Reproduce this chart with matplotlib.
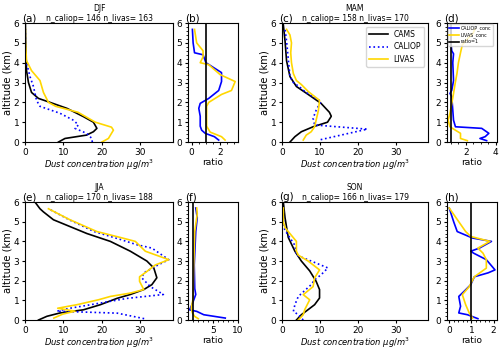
import numpy as np
import matplotlib
matplotlib.use("Agg")
import matplotlib.pyplot as plt

# Seasons and sample counts
SEASONS = ["DJF", "MAM", "JJA", "SON"]
N_CALIOP = [146, 158, 170, 166]
N_LIVAS = [163, 170, 188, 179]
LETTERS = [("(a)", "(b)"), ("(c)", "(d)"), ("(e)", "(f)"), ("(g)", "(h)")]

# DJF profiles (altitude km, concentration ug/m3)
djf_cams_z = [0.0, 0.18, 0.35, 0.52, 0.69, 1.0, 1.28, 1.7, 2.0, 2.2, 2.5, 3.0, 3.6, 4.8, 6.0]
djf_cams = [8.7, 10.4, 16.0, 17.8, 18.7, 17.8, 15.2, 10.9, 6.5, 3.5, 1.7, 0.9, 0.4, 0.2, 0.1]
djf_livas_z = [0.0, 0.18, 0.6, 0.75, 1.0, 1.1, 1.5, 1.8, 2.0, 2.5, 3.1, 3.6, 4.1, 5.1, 5.7]
djf_livas = [20.0, 21.7, 23.0, 22.5, 18.3, 17.4, 13.8, 8.0, 6.1, 4.8, 3.9, 1.7, 0.4, 0.1, 0.1]
djf_caliop_z = [0.0, 0.18, 0.44, 0.69, 0.86, 1.1, 1.45, 1.8, 2.1, 2.8, 3.3, 4.0, 4.5, 5.1, 5.7]
djf_caliop = [17.5, 17.4, 16.0, 13.0, 13.9, 12.6, 9.1, 3.9, 3.0, 2.2, 1.3, 0.4, 0.1, 0.1, 0.1]
djf_r_caliop_z = [0.1, 0.27, 0.44, 0.6, 0.8, 1.3, 1.7, 1.95, 2.2, 2.6, 3.05, 3.5, 4.0, 4.4, 4.5, 5.0, 5.68]
djf_r_caliop = [1.9, 1.6, 0.95, 0.7, 0.6, 0.6, 0.5, 0.6, 1.2, 1.9, 2.1, 2.1, 1.0, 0.8, 0.2, 0.1, 0.05]
djf_r_livas_z = [0.1, 0.27, 0.5, 0.8, 1.8, 2.0, 2.4, 2.6, 3.05, 3.4, 3.9, 4.0, 4.3, 4.6, 5.0, 5.68]
djf_r_livas = [2.35, 2.1, 1.3, 1.05, 1.05, 1.2, 2.1, 2.8, 3.06, 2.0, 1.2, 0.6, 0.8, 0.8, 0.35, 0.2]

# MAM profiles
mam_cams_z = [0.0, 0.27, 0.52, 0.77, 1.0, 1.3, 1.5, 1.95, 2.4, 2.8, 3.3, 4.1, 5.1, 6.0]
mam_cams = [2.1, 3.4, 5.1, 8.2, 12.0, 13.0, 12.5, 10.3, 6.9, 3.8, 2.1, 1.2, 0.8, 0.3]
mam_livas_z = [0.1, 0.35, 0.52, 0.77, 1.1, 1.6, 2.1, 2.55, 2.9, 3.1, 3.45, 4.0, 4.5, 5.0, 5.4, 5.68]
mam_livas = [5.6, 6.4, 7.7, 8.6, 9.0, 9.6, 9.9, 6.9, 5.1, 3.8, 3.0, 2.5, 2.3, 2.5, 2.1, 1.2]
mam_caliop_z = [0.12, 0.65, 0.86, 1.2, 1.6, 2.05, 2.3, 2.55, 2.75, 3.0, 3.3, 4.1, 5.1, 5.68]
mam_caliop = [10.2, 22.5, 8.6, 8.2, 9.0, 10.3, 8.0, 6.0, 4.8, 3.0, 2.1, 1.7, 1.2, 0.8]
mam_r_caliop_z = [0.07, 0.18, 0.27, 0.44, 0.69, 0.77, 1.1, 1.6, 2.3, 2.45, 2.6, 3.1, 4.0, 4.45, 4.6, 5.0, 5.68]
mam_r_caliop = [3.4, 2.95, 3.3, 3.55, 3.07, 1.3, 1.17, 1.12, 1.05, 0.93, 1.05, 1.17, 1.12, 1.17, 1.05, 1.0, 1.0]
mam_r_livas_z = [0.07, 0.18, 0.44, 0.6, 0.77, 1.1, 1.45, 1.95, 2.45, 3.0, 3.45, 4.0, 4.5, 4.9, 5.2, 5.5, 5.68]
mam_r_livas = [2.1, 1.64, 1.64, 1.29, 0.93, 0.81, 0.93, 1.05, 1.17, 1.29, 1.4, 1.5, 1.64, 1.76, 2.1, 2.5, 2.6]

# JJA profiles
jja_cams_z = [0.0, 0.19, 0.36, 0.52, 0.78, 1.1, 1.3, 1.55, 1.8, 2.15, 2.65, 3.0, 3.5, 4.0, 4.4, 5.1, 5.5, 5.66, 6.0]
jja_cams = [3.5, 5.7, 9.1, 15.2, 19.6, 23.9, 27.4, 30.9, 33.0, 34.3, 33.5, 31.7, 27.4, 22.2, 16.1, 7.4, 4.8, 3.9, 2.6]
jja_livas_z = [0.1, 0.3, 0.45, 0.6, 0.78, 1.03, 1.2, 1.37, 1.55, 1.97, 2.2, 2.47, 2.8, 3.07, 3.5, 4.0, 4.2, 4.5, 5.1, 5.66]
jja_livas = [7.5, 9.8, 13.0, 8.5, 13.5, 19.1, 22.2, 27.4, 30.9, 29.8, 29.8, 31.7, 33.9, 37.4, 31.3, 28.7, 24.8, 18.7, 11.7, 6.1]
jja_caliop_z = [0.07, 0.35, 0.45, 0.6, 0.86, 1.1, 1.3, 1.7, 2.14, 2.4, 2.73, 3.07, 3.66, 3.83, 4.1, 4.5, 5.1, 5.66]
jja_caliop = [31.0, 24.0, 8.3, 11.7, 19.5, 26.5, 36.0, 32.6, 30.4, 30.9, 33.9, 37.4, 33.0, 29.1, 24.8, 18.0, 11.5, 6.1]
jja_r_caliop_z = [0.1, 0.27, 0.44, 0.52, 0.7, 0.95, 1.3, 1.6, 2.8, 4.5, 5.2, 5.7]
jja_r_caliop = [7.5, 3.2, 1.8, 0.36, 0.7, 1.1, 1.6, 1.4, 1.3, 1.6, 1.9, 1.6]
jja_r_livas_z = [0.07, 0.18, 0.36, 0.6, 1.1, 2.8, 4.5, 5.4, 5.7]
jja_r_livas = [2.1, 1.4, 0.93, 0.7, 1.07, 1.2, 1.4, 1.9, 1.8]

# SON profiles
son_cams_z = [0.0, 0.27, 0.53, 0.78, 1.12, 1.55, 1.97, 2.5, 3.0, 3.5, 4.2, 5.2, 6.0]
son_cams = [3.8, 5.1, 6.9, 8.6, 9.9, 9.9, 9.0, 7.3, 5.1, 3.4, 1.65, 0.8, 0.35]
son_livas_z = [0.0, 0.27, 0.53, 1.03, 1.29, 1.7, 2.14, 2.55, 3.0, 3.3, 3.5, 4.0, 4.5, 4.7, 5.0, 5.7]
son_livas = [4.3, 5.6, 6.0, 7.3, 5.6, 8.2, 8.6, 9.9, 6.9, 4.3, 3.8, 3.8, 1.65, 0.8, 0.35, 0.35]
son_caliop_z = [0.0, 0.27, 0.44, 0.78, 1.2, 1.8, 2.05, 2.3, 2.65, 3.0, 3.3, 3.8, 4.5, 4.8, 5.0, 5.7]
son_caliop = [5.6, 4.3, 3.0, 3.4, 4.3, 7.7, 8.6, 10.3, 12.1, 7.7, 3.8, 3.4, 1.0, 0.2, 0.4, 0.35]
son_r_caliop_z = [0.07, 0.27, 0.36, 0.7, 1.2, 1.46, 1.8, 2.2, 2.4, 2.55, 3.07, 3.4, 3.5, 3.66, 4.0, 4.17, 4.5, 5.0, 5.7]
son_r_caliop = [1.29, 0.82, 0.43, 0.51, 0.43, 0.67, 0.97, 1.13, 1.75, 2.06, 1.67, 1.1, 0.97, 1.36, 1.9, 1.05, 0.36, 0.2, 0.0]
son_r_livas_z = [0.1, 0.36, 0.78, 1.29, 1.7, 2.2, 2.64, 3.07, 3.4, 3.66, 4.0, 4.25, 4.5, 5.0, 5.7]
son_r_livas = [1.05, 0.9, 0.74, 0.59, 0.9, 1.13, 1.67, 1.67, 1.52, 1.29, 1.83, 0.97, 0.74, 0.43, 0.0]

profiles = [
    (djf_cams_z, djf_cams, djf_caliop_z, djf_caliop, djf_livas_z, djf_livas,
     djf_r_caliop_z, djf_r_caliop, djf_r_livas_z, djf_r_livas),
    (mam_cams_z, mam_cams, mam_caliop_z, mam_caliop, mam_livas_z, mam_livas,
     mam_r_caliop_z, mam_r_caliop, mam_r_livas_z, mam_r_livas),
    (jja_cams_z, jja_cams, jja_caliop_z, jja_caliop, jja_livas_z, jja_livas,
     jja_r_caliop_z, jja_r_caliop, jja_r_livas_z, jja_r_livas),
    (son_cams_z, son_cams, son_caliop_z, son_caliop, son_livas_z, son_livas,
     son_r_caliop_z, son_r_caliop, son_r_livas_z, son_r_livas),
]

RATIO_XLIM = [(-0.26, 3.26), (0.73, 4.1), (0.05, 10.05), (-0.1, 2.15)]
RATIO_XTICKS = [[0, 2], [2, 4], [5, 10], [0, 1, 2]]

GOLD = "#ffd700"

fig = plt.figure(figsize=(5.0, 3.49), dpi=100)

# axes positions (fig fraction) for main and ratio panels
main_x = [0.050, 0.564]
main_w = [0.296, 0.292]
ratio_x = [0.376, 0.894]
ratio_w = 0.100
row_y = [0.593, 0.083]
row_h = [0.341, 0.338]

for i, season in enumerate(SEASONS):
    col = i % 2
    row = i // 2
    (cz, c, lz, l, vz, v, rlz, rl, rvz, rv) = profiles[i]

    ax = fig.add_axes([main_x[col], row_y[row], main_w[col], row_h[row]])
    ax.plot(c, cz, color="black", lw=1.2, label="CAMS")
    ax.plot(l, lz, color="blue", ls=":", lw=1.2, label="CALIOP")
    ax.plot(v, vz, color=GOLD, lw=1.2, label="LIVAS")
    ax.set_xlim(0, 38.5)
    ax.set_ylim(0, 6)
    ax.set_xticks([0, 10, 20, 30])
    ax.set_xlabel(r"$\it{Dust\ concentration}$ $\mu g/m^3$", fontsize=6, labelpad=1)
    ax.set_ylabel("altitude (km)", fontsize=7.2, labelpad=1)
    ax.tick_params(labelsize=6.5, length=2.5, pad=1.5)
    ax.set_title(f"{season}\nn_caliop= {N_CALIOP[i]} n_livas= {N_LIVAS[i]}",
                 fontsize=5.5, pad=2, linespacing=1.15)
    ax.set_title(LETTERS[i][0], loc="left", fontsize=7.5, pad=1, x=-0.02)
    if i == 1:
        ax.legend(loc="upper right", fontsize=5.5, handlelength=2.4,
                  borderpad=0.4, labelspacing=0.45)

    axr = fig.add_axes([ratio_x[col], row_y[row], ratio_w, row_h[row]])
    axr.plot(rl, rlz, color="blue", lw=1.2, label="CALIOP_conc")
    axr.plot(rv, rvz, color=GOLD, lw=1.2, label="LIVAS_conc")
    axr.axvline(1, color="black", lw=1.2, label="ratio=1")
    axr.set_xlim(*RATIO_XLIM[i])
    axr.set_ylim(0, 6)
    axr.set_xticks(RATIO_XTICKS[i])
    axr.minorticks_on()
    axr.set_xlabel("ratio", fontsize=6.5, labelpad=1)
    axr.tick_params(labelsize=6.5, length=2.5, pad=1.5)
    axr.tick_params(which="minor", length=1.5)
    axr.set_title(LETTERS[i][1], loc="left", fontsize=7.5, pad=1, x=-0.06)
    if i == 1:
        axr.legend(loc="upper left", fontsize=3.4, handlelength=2.0,
                   handletextpad=0.4, borderpad=0.3, labelspacing=0.3,
                   borderaxespad=0.15)

fig.savefig("out.png", dpi=100)
